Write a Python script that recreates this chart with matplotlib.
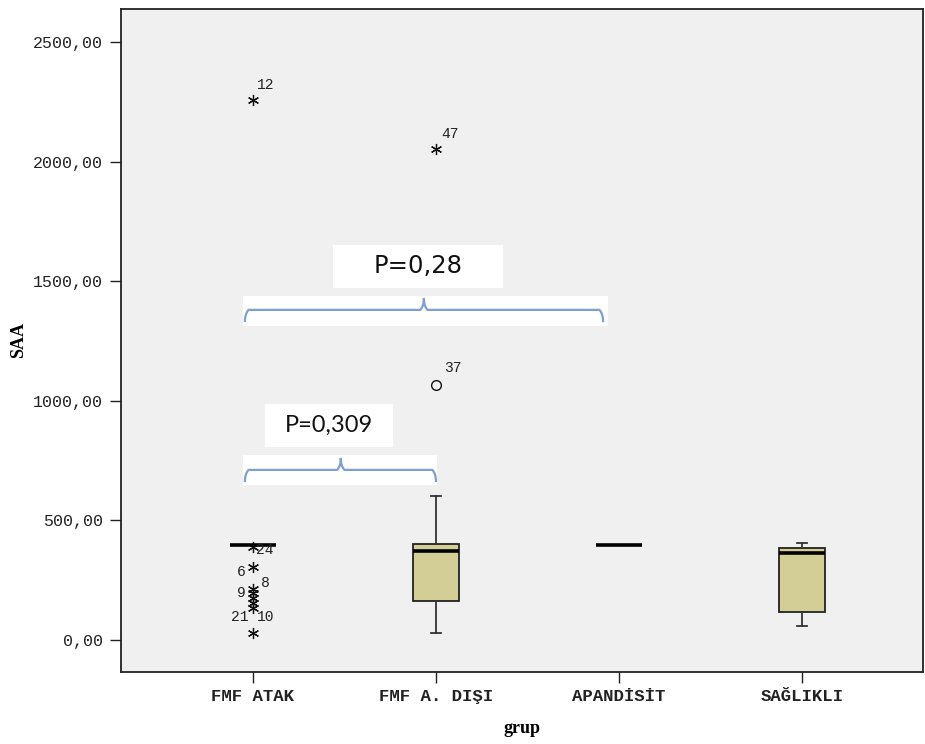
import matplotlib
matplotlib.use("Agg")
import matplotlib.pyplot as plt
from matplotlib.ticker import FuncFormatter, FixedLocator
from matplotlib.patches import Rectangle, PathPatch
from matplotlib.path import Path

# ---------------- data ----------------
categories = ["FMF ATAK", "FMF A. DIŞI", "APANDİSİT", "SAĞLIKLI"]
whislo = [395, 29, 397, 59]
q1 = [395, 163, 397, 117]
med = [395, 373, 397, 364]
q3 = [395, 401, 397, 385]
whishi = [395, 602, 397, 405]

# extreme outliers (stars)
star_group = [0, 0, 0, 0, 0, 0, 0, 0, 0, 1]
star_value = [2257, 390, 305, 215, 195, 175, 155, 135, 29, 2053]
star_label = ["12", "24", "6", "9", "", "8", "", "21", "10", "47"]
# mild outliers (circles)
circle_group = [1]
circle_value = [1066]
circle_label = ["37"]

yticks = [0, 500, 1000, 1500, 2000, 2500]
p_texts = ["P=0,309", "P=0,28"]

# ---------------- style ----------------
fig = plt.figure(figsize=(9.25, 7.44), dpi=100)
ax = fig.add_axes([121 / 925, 1 - 672 / 744, (923 - 121) / 925, (672 - 9) / 744])
ax.set_facecolor("#f0f0f0")
ax.set_xlim(-0.721, 3.661)
ax.set_ylim(-134, 2638)

stats = []
for i in range(len(categories)):
    stats.append(dict(med=med[i], q1=q1[i], q3=q3[i], whislo=whislo[i],
                      whishi=whishi[i], fliers=[], label=categories[i]))
ax.bxp(stats, positions=range(len(categories)), widths=0.25, patch_artist=True,
       showfliers=False, capwidths=0.055,
       boxprops=dict(facecolor="#d3ce96", edgecolor="#222222", linewidth=1.3),
       medianprops=dict(color="black", linewidth=2.6, solid_capstyle="butt"),
       whiskerprops=dict(color="#333333", linewidth=1.3),
       capprops=dict(color="#333333", linewidth=1.3))

ax.plot(star_group, star_value, linestyle="none", marker=(6, 2, 0),
        markersize=8, markeredgecolor="#111111", markeredgewidth=0.9)
ax.plot(circle_group, circle_value, linestyle="none", marker="o",
        markersize=7, markerfacecolor="none", markeredgecolor="#111111",
        markeredgewidth=1.0)

star_offsets = [(13, 15), (12, -3), (-12, -5), (-12, -4), (0, 0), (12, 15),
                (0, 0), (-13, -9), (13, 16), (14, 15)]
for g, v, lab, off in zip(star_group, star_value, star_label, star_offsets):
    if lab:
        ax.annotate(lab, (g, v), xytext=off, textcoords="offset pixels",
                    ha="center", va="center", fontsize=10.5,
                    family="Liberation Mono", color="#222222")
for g, v, lab in zip(circle_group, circle_value, circle_label):
    ax.annotate(lab, (g, v), xytext=(17, 17), textcoords="offset pixels",
                ha="center", va="center", fontsize=10.5,
                family="Liberation Mono", color="#222222")

# ---------------- annotation brackets ----------------
def bracket(x0, x1, xm, y, ydrop, ypeak, band, tbox, text, tfam, tsize):
    ax.add_patch(Rectangle((band[0], band[2]), band[1] - band[0], band[3] - band[2],
                           facecolor="white", edgecolor="none", zorder=3))
    ax.add_patch(Rectangle((tbox[0], tbox[2]), tbox[1] - tbox[0], tbox[3] - tbox[2],
                           facecolor="white", edgecolor="none", zorder=3))
    verts = [(x0, ydrop), (x0, y - (y - ydrop) * 0.3), (x0 + 0.02, y),
             (xm - 0.02, y), (xm, y + (ypeak - y) * 0.3), (xm, ypeak),
             (xm, y + (ypeak - y) * 0.3), (xm + 0.02, y),
             (x1 - 0.02, y), (x1, y - (y - ydrop) * 0.3), (x1, ydrop)]
    codes = [Path.MOVETO, Path.CURVE3, Path.CURVE3, Path.LINETO, Path.CURVE3,
             Path.CURVE3, Path.CURVE3, Path.CURVE3, Path.LINETO, Path.CURVE3, Path.CURVE3]
    ax.add_patch(PathPatch(Path(verts, codes), facecolor="none",
                           edgecolor="#7f9fcf", linewidth=1.6, zorder=4))
    ax.text((tbox[0] + tbox[1]) / 2, (tbox[2] + tbox[3]) / 2, text,
            ha="center", va="center", fontsize=tsize, family=tfam,
            color="#111111", zorder=5)

bracket(-0.044, 1.0, 0.48, 711, 660, 761, (-0.055, 1.005, 648, 773),
        (0.066, 0.765, 807, 987), p_texts[0], "Lato", 17)
bracket(-0.044, 1.913, 0.934, 1380, 1329, 1430, (-0.055, 1.94, 1313, 1438),
        (0.437, 1.366, 1472, 1651), p_texts[1], "DejaVu Sans", 17.5)

# ---------------- axes ----------------
ax.yaxis.set_major_locator(FixedLocator(yticks))
ax.yaxis.set_major_formatter(FuncFormatter(lambda v, p: f"{v:.2f}".replace(".", ",")))
ax.set_xticks(range(len(categories)))
ax.set_xticklabels(categories)
for lab in ax.get_yticklabels():
    lab.set_family("Liberation Mono")
    lab.set_fontsize(12)
for lab in ax.get_xticklabels():
    lab.set_family("Liberation Mono")
    lab.set_fontsize(12.5)
    lab.set_fontweight("bold")
ax.tick_params(axis="both", direction="out", length=8, width=1.0, color="#222222",
               labelcolor="#222222")
ax.tick_params(axis="x", pad=4.5)
ax.tick_params(axis="y", pad=5)
for s in ax.spines.values():
    s.set_color("#222222")
    s.set_linewidth(1.3)

ax.set_xlabel("grup", fontsize=13, fontweight="bold", family="Liberation Serif",
              labelpad=11)
ax.set_ylabel("SAA", fontsize=13, fontweight="bold", family="Liberation Serif",
              labelpad=4)

fig.savefig("out.png", dpi=100)
